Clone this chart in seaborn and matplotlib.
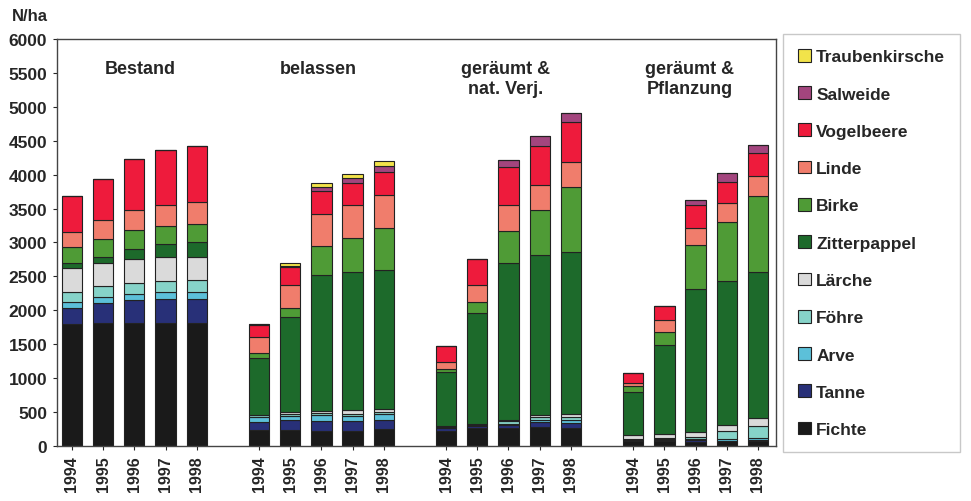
import pandas as pd
import seaborn as sns
import matplotlib.pyplot as plt

# Data (N/ha), 4 treatments x 5 years each
groups = ['Bestand', 'belassen', 'geräumt &\nnat. Verj.', 'geräumt &\nPflanzung']
years = ['1994', '1995', '1996', '1997', '1998']

fichte = [1800, 1815, 1815, 1815, 1815, 230, 230, 225, 225, 250,
          220, 260, 260, 277, 270, 70, 70, 60, 70, 70]
tanne = [240, 295, 330, 345, 355, 120, 155, 150, 150, 140,
         50, 40, 50, 70, 70, 20, 20, 30, 10, 15]
arve = [80, 85, 100, 110, 100, 70, 60, 85, 70, 80,
        10, 10, 20, 40, 45, 10, 10, 10, 30, 30]
foehre = [157, 157, 158, 156, 170, 30, 30, 30, 30, 30,
          10, 10, 35, 35, 35, 10, 15, 30, 113, 186]
laerche = [345, 345, 348, 355, 345, 10, 30, 30, 60, 50,
           0, 0, 25, 35, 50, 50, 60, 80, 85, 108]
zitterpappel = [75, 90, 158, 200, 220, 833, 1393, 2002, 2036, 2051,
                797, 1642, 2305, 2365, 2396, 632, 1319, 2106, 2130, 2162]
birke = [235, 260, 270, 260, 270, 80, 133, 420, 500, 615,
         50, 157, 480, 660, 950, 90, 190, 640, 860, 1120]
linde = [220, 280, 295, 315, 320, 230, 345, 475, 475, 490,
         100, 255, 380, 373, 368, 50, 177, 260, 280, 286]
vogelbeere = [530, 605, 750, 815, 835, 185, 260, 340, 335, 330,
              230, 390, 555, 575, 590, 150, 205, 330, 320, 340]
salweide = [0, 0, 0, 0, 0, 15, 15, 60, 70, 95,
            0, 0, 110, 137, 137, 0, 0, 85, 125, 123]
traubenkirsche = [0, 0, 0, 0, 0, 0, 45, 60, 65, 75,
                  0, 0, 0, 0, 0, 0, 0, 0, 0, 0]

species = {
    'Traubenkirsche': traubenkirsche,
    'Salweide': salweide,
    'Vogelbeere': vogelbeere,
    'Linde': linde,
    'Birke': birke,
    'Zitterpappel': zitterpappel,
    'Lärche': laerche,
    'Föhre': foehre,
    'Arve': arve,
    'Tanne': tanne,
    'Fichte': fichte,
}
colors = {
    'Traubenkirsche': '#f2e34a',
    'Salweide': '#a3457e',
    'Vogelbeere': '#ee1b3c',
    'Linde': '#f07d6c',
    'Birke': '#4f9b36',
    'Zitterpappel': '#1d6a2b',
    'Lärche': '#dadada',
    'Föhre': '#86d3c9',
    'Arve': '#5cc0d9',
    'Tanne': '#283078',
    'Fichte': '#1a1a1a',
}

# slot positions: one empty slot between the treatment groups
pos = [g * (len(years) + 1) + y for g in range(len(groups)) for y in range(len(years))]

rows = []
for name, vals in species.items():
    for p, v in zip(pos, vals):
        rows.append({'pos': p, 'species': name, 'value': v})
df = pd.DataFrame(rows)

sns.set_style('white')
plt.rcParams['font.family'] = ['Liberation Sans', 'DejaVu Sans']
plt.rcParams['font.weight'] = 'bold'

fig = plt.figure(figsize=(9.71, 5.02), dpi=100)
ax = fig.add_axes([0.0587, 0.1096, 0.7405, 0.8107])

sns.histplot(data=df, x='pos', weights='value', hue='species',
             hue_order=list(species.keys()), palette=colors,
             multiple='stack', discrete=True, shrink=0.65,
             edgecolor='#222222', linewidth=0.8, alpha=1, ax=ax)

# drop the empty (zero-height) bins so no stray edges show on the baseline
for p in list(ax.patches):
    if p.get_height() == 0 and p.get_y() == 0:
        p.remove()

ax.set_xlim(-0.48, 22.58)
ax.set_ylim(0, 6000)
ax.set_yticks(range(0, 6001, 500))
ax.set_xticks(pos)
ax.set_xticklabels(years * len(groups), rotation=90, fontsize=11.5, fontweight='bold')
ax.tick_params(axis='y', labelsize=12.5, length=3, direction='out', left=True, pad=4)
ax.tick_params(axis='x', length=3, direction='out', bottom=True)
for lab in ax.get_yticklabels():
    lab.set_fontweight('bold')
ax.set_xlabel('')
ax.set_ylabel('')
for s in ax.spines.values():
    s.set_color('#444444')
    s.set_linewidth(1)

fig.text(0.031, 0.968, 'N/ha', fontsize=12, fontweight='bold', ha='center', va='center')

label_x = [2.2, 7.9, 13.9, 19.8]
label_y = [5570, 5570, 5420, 5420]
for gx, gy, g in zip(label_x, label_y, groups):
    ax.text(gx, gy, g, ha='center', va='center', fontsize=13, fontweight='bold',
            linespacing=1.2)

sns.move_legend(ax, 'upper left', bbox_to_anchor=(1.01, 1.012), title=None,
                frameon=True, fontsize=12.5, labelspacing=1.26,
                handlelength=0.75, handleheight=0.75, handletextpad=0.3,
                borderpad=0.85, borderaxespad=0, fancybox=False)
leg = ax.get_legend()
leg.get_frame().set_edgecolor('#bbbbbb')
for t in leg.get_texts():
    t.set_fontweight('bold')

fig.savefig('out.png', dpi=100)
